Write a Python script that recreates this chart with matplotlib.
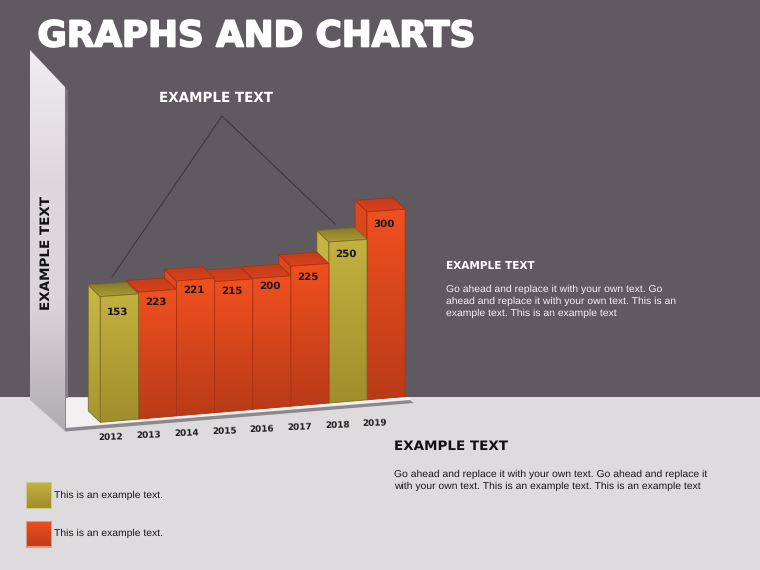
import numpy as np
import matplotlib
matplotlib.use("Agg")
import matplotlib.pyplot as plt
from matplotlib.patches import Polygon
from matplotlib.colors import LinearSegmentedColormap
import matplotlib.patheffects as pe

years = ["2012", "2013", "2014", "2015", "2016", "2017", "2018", "2019"]
labels = [153, 223, 221, 215, 200, 225, 250, 300]
drawn_heights = [125.7, 127, 135, 131, 131, 140, 161, 188]
highlight = [True, False, False, False, False, False, True, False]
legend_text = ["This is an example text.", "This is an example text."]
body = "Go ahead and replace it with your own text. Go\nahead and replace it with your own text. This is an\nexample text. This is an example text"
body2 = "Go ahead and replace it with your own text. Go ahead and replace it\nwith your own text. This is an example text. This is an example text"

plt.rcParams["font.family"] = ["Liberation Sans", "DejaVu Sans"]
plt.rcParams["text.hinting"] = "no_hinting"
plt.rcParams["text.hinting_factor"] = 8
HEAVY = ["DejaVu Sans"]
fig = plt.figure(figsize=(7.6, 5.7), dpi=100)
ax = fig.add_axes([0, 0, 1, 1])
ax.set_xlim(0, 760)
ax.set_ylim(570, 0)
ax.axis("off")


def grad(poly, colors, horizontal=False, z=1, edge=None, lw=0.8):
    poly = np.array(poly, float)
    x0, y0 = poly.min(axis=0)
    x1, y1 = poly.max(axis=0)
    cm = LinearSegmentedColormap.from_list("g", list(colors))
    g = np.linspace(0, 1, 128)
    g = g.reshape(1, -1) if horizontal else g.reshape(-1, 1)
    im = ax.imshow(g, cmap=cm, extent=(x0, x1, y1, y0), aspect="auto", zorder=z, interpolation="bilinear")
    p = Polygon(poly, closed=True, transform=ax.transData, fc="none", ec="none")
    ax.add_patch(p)
    im.set_clip_path(p)
    if edge:
        ax.add_patch(Polygon(poly, closed=True, fc="none", ec=edge, lw=lw, zorder=z + 0.01))


# backdrop
ax.add_patch(Polygon([(0, 0), (760, 0), (760, 397), (0, 397)], fc="#5F5A5F", ec="none", zorder=0))
ax.add_patch(Polygon([(0, 397), (760, 397), (760, 570), (0, 570)], fc="#DEDBDF", ec="none", zorder=0))

# wall
grad([(65, 87), (68, 90), (68, 431), (65, 431)], ("#77747A", "#8D8A8F"), z=1)
grad([(30, 50), (65, 87), (65, 431), (30, 400)], ("#EFEDEF", "#DDD9DD", "#D9D5D9", "#B0ADB1"), z=2)
# floor
ax.add_patch(Polygon([(66, 398), (408, 397), (414, 402), (66, 430)], fc="#F2F0F1", ec="none", zorder=1))
ax.add_patch(Polygon([(65, 428), (410, 400), (414, 403), (65, 431.5)], fc="#8C898E", ec="none", zorder=1.5))

# guide lines
ax.plot([112, 222, 335], [277, 116, 224], color="#38343A", lw=0.7, zorder=1.2)

X0, STEP, BASE, SLOPE, TOP_SLOPE = 100.3, 38.1, 422.3, -0.0843, -0.07
DX, DY = -12, -11.5
label_drop = [16, 10, 9, 9, 8, 11, 12, 12]
z = 3.0
for i in range(len(years) - 1, -1, -1):
    xl, xr = X0 + i * STEP, X0 + (i + 1) * STEP
    bl = BASE + SLOPE * (xl - X0)
    br = BASE + SLOPE * (xr - X0)
    tl = bl - drawn_heights[i]
    tr = tl + TOP_SLOPE * STEP
    if highlight[i]:
        front, side, top, ec = ("#C3B140", "#A08E2C"), ("#C9B848", "#A8962F"), ("#877826", "#AD9C38"), "#7C6E22"
    else:
        front, side, top, ec = ("#F0501F", "#B93B18"), ("#E04A1E", "#B23716"), ("#C23A1A", "#D8431C"), "#A83214"
    grad([(xl + DX, tl + DY), (xl, tl), (xl, bl), (xl + DX, bl + DY)], side, z=z, edge=ec, lw=0.6)
    grad([(xl + DX, tl + DY), (xr + DX, tr + DY), (xr, tr), (xl, tl)], top, z=z + 0.02, edge=ec, lw=0.6)
    grad([(xl, tl), (xr, tr), (xr, br), (xl, bl)], front, z=z + 0.04, edge=ec, lw=0.6)
    ax.text((xl + xr) / 2 - 2, tl + label_drop[i], str(labels[i]), ha="center", va="center",
            fontsize=7.4, fontweight="bold", family=HEAVY, color="#1E1512", zorder=9)
    ax.text(111 + 37.7 * i, 437 - 2 * i, years[i], ha="center", va="center",
            fontsize=6.4, fontweight="bold", family=HEAVY, color="#1E1E20", rotation=1.5, zorder=9)
    z += 0.2

# title and captions
ax.text(37.5, 36.5, "GRAPHS AND CHARTS", ha="left", va="center", fontsize=25.7, fontweight="bold", family=HEAVY,
        color="white", zorder=9, path_effects=[pe.withStroke(linewidth=1.3, foreground="white")])
ax.text(215.5, 98, "EXAMPLE TEXT", ha="center", va="center", fontsize=9.75, fontweight="bold", family=HEAVY, color="white", zorder=9)
ax.text(46, 253.5, "EXAMPLE TEXT", ha="center", va="center", rotation=90, fontsize=9.7, fontweight="bold", family=HEAVY, color="#111114", zorder=9)
ax.text(446, 266, "EXAMPLE TEXT", ha="left", va="center", fontsize=7.6, fontweight="bold", family=HEAVY, color="white", zorder=9)
ax.text(446, 301, body, ha="left", va="center", fontsize=7.45, color="#F4F2F4", linespacing=1.35, zorder=9)
ax.text(394, 446, "EXAMPLE TEXT", ha="left", va="center", fontsize=9.7, fontweight="bold", family=HEAVY, color="#111114", zorder=9)
ax.text(394, 480, body2, ha="left", va="center", fontsize=7.45, color="#17171A", linespacing=1.33, zorder=9)

# legend
swatches = [("#C3B140", "#A08E2C"), ("#EE4F20", "#BE3D1A")]
swatch_rims = ["#CFC98A", "#E09A80"]
for k, (txt, sw, rim) in enumerate(zip(legend_text, swatches, swatch_rims)):
    y0 = 483 + 38.5 * k
    ax.add_patch(Polygon([(26, y0 - 1), (52, y0 - 1), (52, y0 + 26), (26, y0 + 26)], fc=rim, ec="none", zorder=3))
    grad([(27, y0), (51, y0), (51, y0 + 25), (27, y0 + 25)], sw, z=4)
    ax.text(54, y0 + 12, txt, ha="left", va="center", fontsize=7.45, color="#17171A", zorder=9)

ax.set_xlim(0, 760)
ax.set_ylim(570, 0)
fig.savefig("out.png", dpi=100)
